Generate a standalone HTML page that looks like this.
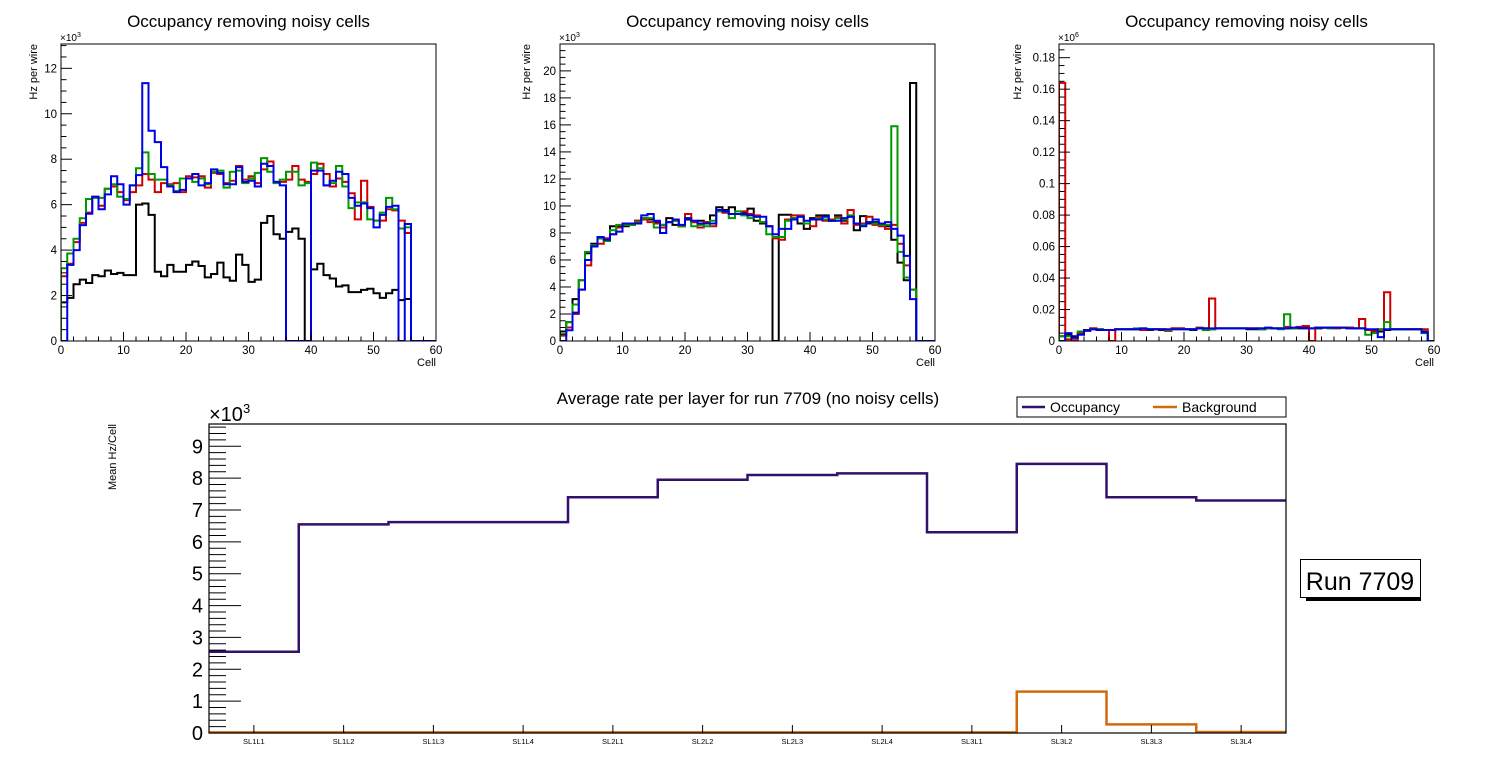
<!DOCTYPE html>
<html><head><meta charset="utf-8"><style>
body{margin:0;background:#fff;}
svg{display:block;font-family:"Liberation Sans",sans-serif;}
</style></head><body>
<svg id="c" width="1496" height="772" viewBox="0 0 1496 772" xmlns="http://www.w3.org/2000/svg"></svg>
<script>
// ---------- Data ----------
const p1Black=[1.7,1.9,2.5,2.7,2.55,2.9,2.85,3.1,2.95,3.0,2.9,2.9,6.0,6.05,5.55,3.05,2.85,3.35,3.05,3.05,3.35,3.5,3.3,2.8,2.95,3.45,2.8,2.65,3.8,3.35,2.6,2.7,5.2,5.5,4.7,4.5,4.8,4.95,4.5,0,3.15,3.4,2.9,2.75,2.4,2.45,2.15,2.15,2.25,2.3,2.1,1.9,2.1,2.25,1.8,1.85,0,0,0,0];
const p1Red=[2.85,3.4,4.35,5.2,5.65,6.35,5.95,6.7,6.8,6.55,6.2,6.55,6.85,7.35,7.1,6.55,6.95,6.9,6.95,6.55,7.25,7.2,7.25,6.75,7.4,7.35,6.95,7.05,7.7,7.1,7.25,6.95,7.55,7.9,7.0,7.0,7.1,7.7,7.1,7.0,7.35,7.8,7.35,6.8,7.15,7.0,6.5,5.35,7.05,5.9,5.3,5.3,5.8,5.75,5.3,4.75,0,0,0,0];
const p1Green=[3.2,3.85,4.5,5.4,6.25,6.3,6.3,6.7,6.9,6.35,6.25,6.85,7.6,8.3,7.35,7.1,7.1,6.85,6.6,7.15,7.15,7.0,7.15,6.9,7.45,7.5,6.75,7.45,7.5,6.95,7.15,7.4,8.05,7.45,6.95,7.1,7.45,7.45,6.85,6.95,7.85,7.6,6.85,6.95,7.7,6.8,5.85,6.1,6.1,5.35,5.3,5.65,6.3,5.8,4.95,5.0,0,0,0,0];
const p1Blue=[0,3.35,4.0,5.1,5.6,6.35,5.8,6.45,7.25,6.9,6.0,6.85,7.3,11.35,9.25,8.75,7.65,6.8,6.55,6.65,7.15,7.35,6.85,6.95,7.55,7.4,6.9,6.9,7.65,7.0,7.05,6.8,7.8,7.7,7.0,6.85,0,0,0,0,7.5,7.5,6.85,7.05,7.45,7.35,6.3,5.95,6.05,5.85,5.0,5.55,5.9,5.95,0,5.15,0,0,0,0];
const p2Black=[0.7,1.4,3.1,4.5,6.5,7.2,7.6,7.6,8.5,8.5,8.5,8.7,8.9,9.1,9.0,8.8,8.6,9.1,8.6,8.5,9.0,8.8,8.9,8.8,9.3,9.9,9.7,9.9,9.4,9.5,9.8,8.9,8.7,8.5,0,9.35,9.35,9.1,8.7,8.3,9.1,9.3,9.3,8.9,9.3,8.9,9.2,8.2,9.25,8.7,8.8,8.7,8.5,7.5,5.8,4.5,19.1,0,0,0];
const p2Red=[0.4,1.0,2.0,3.8,5.6,7.0,7.2,7.6,7.9,8.4,8.6,8.6,8.9,9.0,8.8,8.7,8.4,8.8,8.9,8.5,9.4,8.8,8.4,8.8,8.5,9.6,9.5,9.4,9.4,9.6,9.4,9.3,8.8,8.5,7.6,7.5,9.0,9.3,9.3,8.7,8.5,9.2,8.9,9.0,9.2,8.7,9.7,8.6,8.7,9.2,8.6,8.5,8.3,8.6,7.2,5.6,3.8,0,0,0];
const p2Green=[0.5,1.4,2.7,4.5,6.6,7.1,7.6,7.4,8.2,8.6,8.6,8.6,8.8,9.1,9.1,8.4,8.6,8.8,8.9,8.5,9.1,8.5,8.6,8.5,8.9,9.6,9.6,9.1,9.6,9.3,9.1,9.2,8.8,7.9,7.7,7.7,8.9,9.1,9.2,8.7,9.0,9.1,9.0,8.9,9.1,9.0,9.3,8.7,8.6,8.8,8.7,8.6,8.6,15.9,6.6,4.7,3.8,0,0,0];
const p2Blue=[0,0.8,2.1,3.8,6.0,7.0,7.7,7.5,7.9,8.1,8.7,8.7,8.7,9.3,9.4,8.9,8.0,8.8,9.0,8.6,9.1,8.9,8.7,8.7,8.7,9.7,9.6,9.4,9.4,9.4,9.3,9.2,9.2,8.5,7.9,8.3,8.3,9.0,9.2,8.9,9.0,9.0,9.2,8.9,8.9,9.1,9.2,8.7,8.5,8.8,9.0,8.7,8.8,8.3,7.8,6.3,3.1,0,0,0];
const p3Black=[0.003,0.004,0.003,0.005,0.007,0.008,0.0075,0.007,0.007,0.0075,0.0075,0.0075,0.0075,0.0075,0.007,0.0075,0.007,0.0065,0.008,0.008,0.0075,0.007,0.008,0.008,0.0075,0.008,0.008,0.008,0.008,0.008,0.0075,0.0075,0.0075,0.008,0.008,0.008,0.008,0.008,0.008,0.0085,0.008,0.008,0.0085,0.0085,0.0085,0.0085,0.0085,0.008,0.008,0.007,0.007,0.006,0.007,0.0075,0.0075,0.0075,0.0075,0.0075,0.006,0];
const p3Red=[0.164,0.001,0.0005,0.005,0.0065,0.008,0.0075,0.007,0,0.0075,0.0075,0.0075,0.0075,0.007,0.0075,0.0075,0.0075,0.0065,0.008,0.008,0.0075,0.0075,0.0085,0.008,0.027,0.008,0.008,0.008,0.008,0.008,0.008,0.008,0.008,0.008,0.008,0.008,0.009,0.008,0.009,0.0095,0,0.0085,0.0085,0.0085,0.008,0.0085,0.0085,0.008,0.014,0.007,0.006,0.0075,0.031,0.0075,0.0075,0.0075,0.0075,0.0075,0.0075,0];
const p3Green=[0.003,0.003,0.002,0.006,0.0065,0.0075,0.0075,0.007,0.007,0.0075,0.0075,0.0075,0.008,0.008,0.0075,0.0075,0.0075,0.007,0.0075,0.0075,0.0075,0.0075,0.008,0.007,0.0075,0.008,0.008,0.008,0.008,0.008,0.008,0.008,0.0075,0.008,0.008,0.0075,0.017,0.008,0.0085,0.008,0.008,0.0085,0.0085,0.008,0.0085,0.0085,0.008,0.008,0.008,0.004,0.005,0.007,0.012,0.0075,0.0075,0.0075,0.0075,0.0075,0.005,0];
const p3Blue=[0,0.005,0.002,0.004,0.0065,0.0075,0.007,0.007,0.007,0.0075,0.0075,0.0075,0.0075,0.008,0.0075,0.0075,0.0075,0.0075,0.0075,0.0075,0.0075,0.0075,0.008,0.008,0.008,0.008,0.008,0.008,0.008,0.008,0.008,0.008,0.008,0.0085,0.008,0.008,0.008,0.0085,0.0085,0.008,0.008,0.0085,0.0085,0.0085,0.0085,0.0085,0.008,0.008,0.008,0.0075,0.0075,0.0025,0.0075,0.0075,0.0075,0.0075,0.0075,0.0075,0.0055,0];
const layers=["SL1L1","SL1L2","SL1L3","SL1L4","SL2L1","SL2L2","SL2L3","SL2L4","SL3L1","SL3L2","SL3L3","SL3L4"];
const occupancy=[2.55,6.55,6.62,6.62,7.4,7.95,8.1,8.15,6.3,8.45,7.4,7.3];
const background=[0.02,0.02,0.02,0.02,0.02,0.02,0.02,0.02,0.02,1.3,0.27,0.03];
const xTicksTop=[0,10,20,30,40,50,60];

// ---------- helpers ----------
const svg=document.getElementById('c');
const NS='http://www.w3.org/2000/svg';
function mk(tag,attrs,parent){const e=document.createElementNS(NS,tag);for(const k in attrs)e.setAttribute(k,attrs[k]);(parent||svg).appendChild(e);return e;}
function txt(s,attrs,parent){const e=mk('text',attrs,parent);e.textContent=s;return e;}
function fmt(v){return String(+v.toFixed(4));}

function histPath(vals,xs,ys){
  let d='M'+xs(0)+','+ys(0);
  for(let i=0;i<vals.length;i++){const y=ys(vals[i]);d+=' L'+xs(i)+','+y+' L'+xs(i+1)+','+y;}
  d+=' L'+xs(vals.length)+','+ys(0);
  return d;
}

function panel(name,L,R,T,B,ymax,major,minor,expo,ylOff,series){
  const g=mk('g',{});
  
  
  const xs=v=>L+(R-L)*v/60, ys=v=>B-(B-T)*v/ymax;
  const t=txt('Occupancy removing noisy cells',{x:(L+R)/2,y:27,'font-size':17,'text-anchor':'middle'},g);
  
  
  const clip=mk('clipPath',{id:'cl'+name},g);mk('rect',{x:L,y:T,width:R-L,height:B-T},clip);
  const sg=mk('g',{'clip-path':'url(#cl'+name+')'},g);
  const cols=['#000000','#d00000','#009900','#0000e6'];
  const nm=['black','red','green','blue'];
  series.forEach((s,i)=>{const p=mk('path',{d:histPath(s,xs,ys),fill:'none',stroke:cols[i],'stroke-width':2},sg);
    
    });
  const f=mk('rect',{x:L,y:T,width:R-L,height:B-T,fill:'none',stroke:'#000','stroke-width':1},g);
  
  
  const n=Math.round(ymax/minor);
  for(let k=0;k<=n;k++){const v=k*minor;if(v>ymax)break;const y=ys(v);
    const isM=Math.abs(v/major-Math.round(v/major))<1e-6;
    mk('line',{x1:L,x2:L+(isM?11:5.5),y1:y,y2:y,stroke:'#000'},g);
    if(isM){const l=txt(fmt(v),{x:L-4,y:y+4,'font-size':11.5,'text-anchor':'end'},g);
      
      }}
  for(let v=0;v<=60;v+=2){const x=xs(v);const isM=v%10===0;
    mk('line',{x1:x,x2:x,y1:B,y2:B-(isM?9:4.5),stroke:'#000'},g);}
  xTicksTop.forEach(v=>{const l=txt(String(v),{x:xs(v),y:B+13,'font-size':11.5,'text-anchor':'middle'},g);
    
    });
  const xl=txt('Cell',{x:R,y:B+25,'font-size':11,'text-anchor':'end'},g);
  
  
  const yl=txt('Hz per wire',{x:0,y:0,'font-size':11,'text-anchor':'end',transform:'translate('+(L-ylOff)+','+T+') rotate(-90)'},g);
  
  
  const ex=txt('\u00d710',{x:L-1,y:T-3,'font-size':10},g);
  const sup=mk('tspan',{dy:-4,'font-size':7},ex);sup.textContent=expo;
  
  
}
panel('panel-sl1',61,436,44,341,13.07,2,0.5,'3',24,[p1Black,p1Red,p1Green,p1Blue]);
panel('panel-sl2',560,935,44,341,21.99,2,0.5,'3',30,[p2Black,p2Red,p2Green,p2Blue]);
panel('panel-sl3',1059,1434,44,341,0.1887,0.02,0.005,'6',38,[p3Black,p3Red,p3Green,p3Blue]);

// ---------- bottom chart ----------
(function(){
  const L=209,R=1286,T=424,B=733,ymax=9.7,nb=layers.length;
  const g=mk('g',{});
  
  
  const xs=i=>L+(R-L)*i/nb, ys=v=>B-(B-T)*v/ymax;
  const t=txt('Average rate per layer for run 7709 (no noisy cells)',{x:748,y:404,'font-size':17,'text-anchor':'middle'},g);
  
  
  function step(vals){let d='';for(let i=0;i<vals.length;i++){const y=ys(vals[i]);d+=(i?' L':'M')+xs(i)+','+y+' L'+xs(i+1)+','+y;}return d;}
  const po=mk('path',{d:step(occupancy),fill:'none',stroke:'#33106b','stroke-width':2.5},g);
  
  
  const pb=mk('path',{d:step(background),fill:'none',stroke:'#d06a0c','stroke-width':2.5},g);
  
  
  mk('rect',{x:L,y:T,width:R-L,height:B-T,fill:'none',stroke:'#000','stroke-width':1.2},g);
  for(let k=0;k<=48;k++){const v=k*0.2;if(v>ymax)break;const y=ys(v);const isM=k%5===0;
    mk('line',{x1:L,x2:L+(isM?32:17),y1:y,y2:y,stroke:'#000'},g);
    if(isM){const l=txt(String(k/5),{x:L-6,y:y+7,'font-size':20,'text-anchor':'end'},g);
      
      }}
  layers.forEach((s,i)=>{const x=(xs(i)+xs(i+1))/2;
    mk('line',{x1:x,x2:x,y1:B,y2:B-8,stroke:'#000'},g);
    const l=txt(s,{x:x,y:B+11,'font-size':7.5,'text-anchor':'middle'},g);
    
    });
  const ex=txt('\u00d710',{x:L,y:T-3,'font-size':20},g);
  const sup=mk('tspan',{dy:-8,'font-size':13},ex);sup.textContent='3';
  
  
  const yl=txt('Mean Hz/Cell',{x:0,y:0,'font-size':11,'text-anchor':'end',transform:'translate(116,424) rotate(-90)'},g);
  
  
  const lg=mk('g',{},g);
  
  
  mk('rect',{x:1017,y:397,width:269,height:20,fill:'#fff',stroke:'#000','stroke-width':1},lg);
  mk('line',{x1:1022,x2:1045,y1:407,y2:407,stroke:'#33106b','stroke-width':2.5},lg);
  const e1=txt('Occupancy',{x:1050,y:412,'font-size':14},lg);
  
  
  mk('line',{x1:1153,x2:1177,y1:407,y2:407,stroke:'#d06a0c','stroke-width':2.5},lg);
  const e2=txt('Background',{x:1182,y:412,'font-size':14},lg);
  
  
  const rb=mk('g',{},g);
  
  
  mk('rect',{x:1306,y:596,width:115,height:5,fill:'#000'},rb);
  mk('rect',{x:1300.5,y:559.5,width:120,height:38,fill:'#fff',stroke:'#000','stroke-width':1},rb);
  txt('Run 7709',{x:1360,y:590,'font-size':25,'text-anchor':'middle'},rb);
})();
</script>
</body></html>
